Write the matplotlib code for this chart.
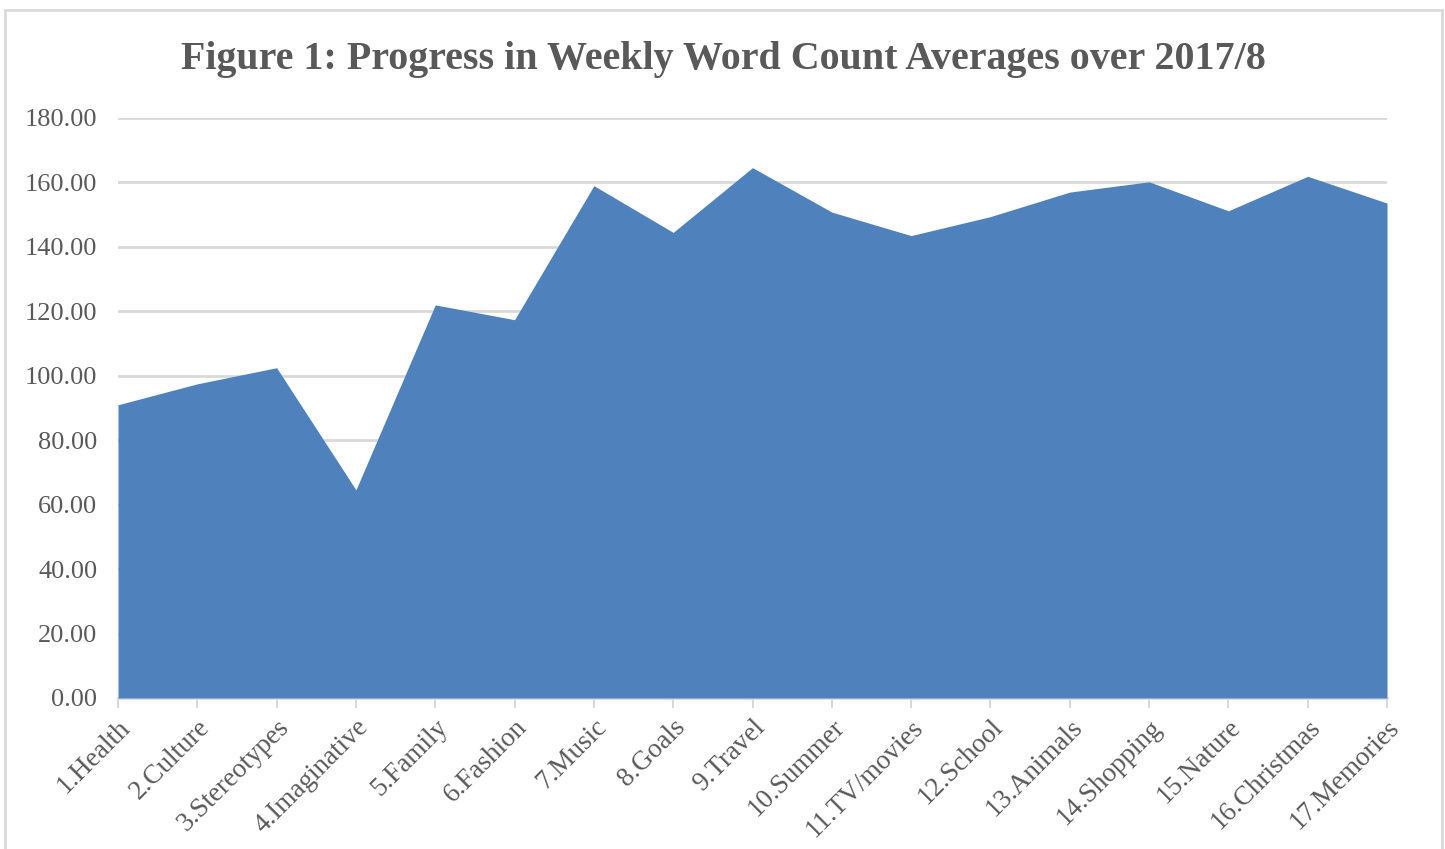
import matplotlib
matplotlib.use("Agg")
import matplotlib.pyplot as plt
from matplotlib.patches import Rectangle

categories = ["1.Health", "2.Culture", "3.Stereotypes", "4.Imaginative", "5.Family",
              "6.Fashion", "7.Music", "8.Goals", "9.Travel", "10.Summer",
              "11.TV/movies", "12.School", "13.Animals", "14.Shopping", "15.Nature",
              "16.Christmas", "17.Memories"]
values = [91.0, 97.5, 102.5, 64.6, 122.0, 117.4, 159.0, 144.5, 164.6, 150.8,
          143.5, 149.4, 157.0, 160.2, 151.2, 161.9, 153.6]
yticks = [0, 20, 40, 60, 80, 100, 120, 140, 160, 180]
title = "Figure 1: Progress in Weekly Word Count Averages over 2017/8"

serif = ["Liberation Serif", "DejaVu Serif"]
text_col = "#595959"
grid_col = "#d9d9d9"

fig = plt.figure(figsize=(14.45, 8.49), dpi=100)
fig.patches.append(Rectangle((5/1445, -0.01), (1442-5)/1445, 1 - 10/849 + 0.01,
                             transform=fig.transFigure, fill=False,
                             edgecolor=grid_col, linewidth=2))
ax = fig.add_axes([118/1445, 1 - 698/849, (1387-118)/1445, (698-118)/849])

x = list(range(len(categories)))
ax.fill_between(x, values, 0, color="#4f81bd", linewidth=0, zorder=3)

ax.set_xlim(0, len(categories) - 1)
ax.set_ylim(0, 180)
ax.set_yticks(yticks)
ax.set_yticklabels([f"{v:.2f}" for v in yticks], fontfamily=serif, fontsize=19, color=text_col)
ax.yaxis.grid(True, color=grid_col, linewidth=2, zorder=0)
ax.tick_params(axis="y", length=0, pad=15)

ax.set_xticks(x)
ax.set_xticklabels(categories, rotation=45, ha="right", va="top", rotation_mode="anchor",
                   fontfamily=serif, fontsize=19.5, color=text_col)
ax.tick_params(axis="x", length=7, width=1.5, color=grid_col, pad=5, direction="out")

for s in ["top", "right", "left"]:
    ax.spines[s].set_visible(False)
ax.spines["bottom"].set_color(grid_col)
ax.spines["bottom"].set_linewidth(2)
ax.set_axisbelow(True)

fig.text(723/1445, 1 - 60/849, title, ha="center", va="center", fontfamily=serif,
         fontweight="bold", fontsize=28.8, color=text_col)

fig.savefig("out.png", dpi=100)
